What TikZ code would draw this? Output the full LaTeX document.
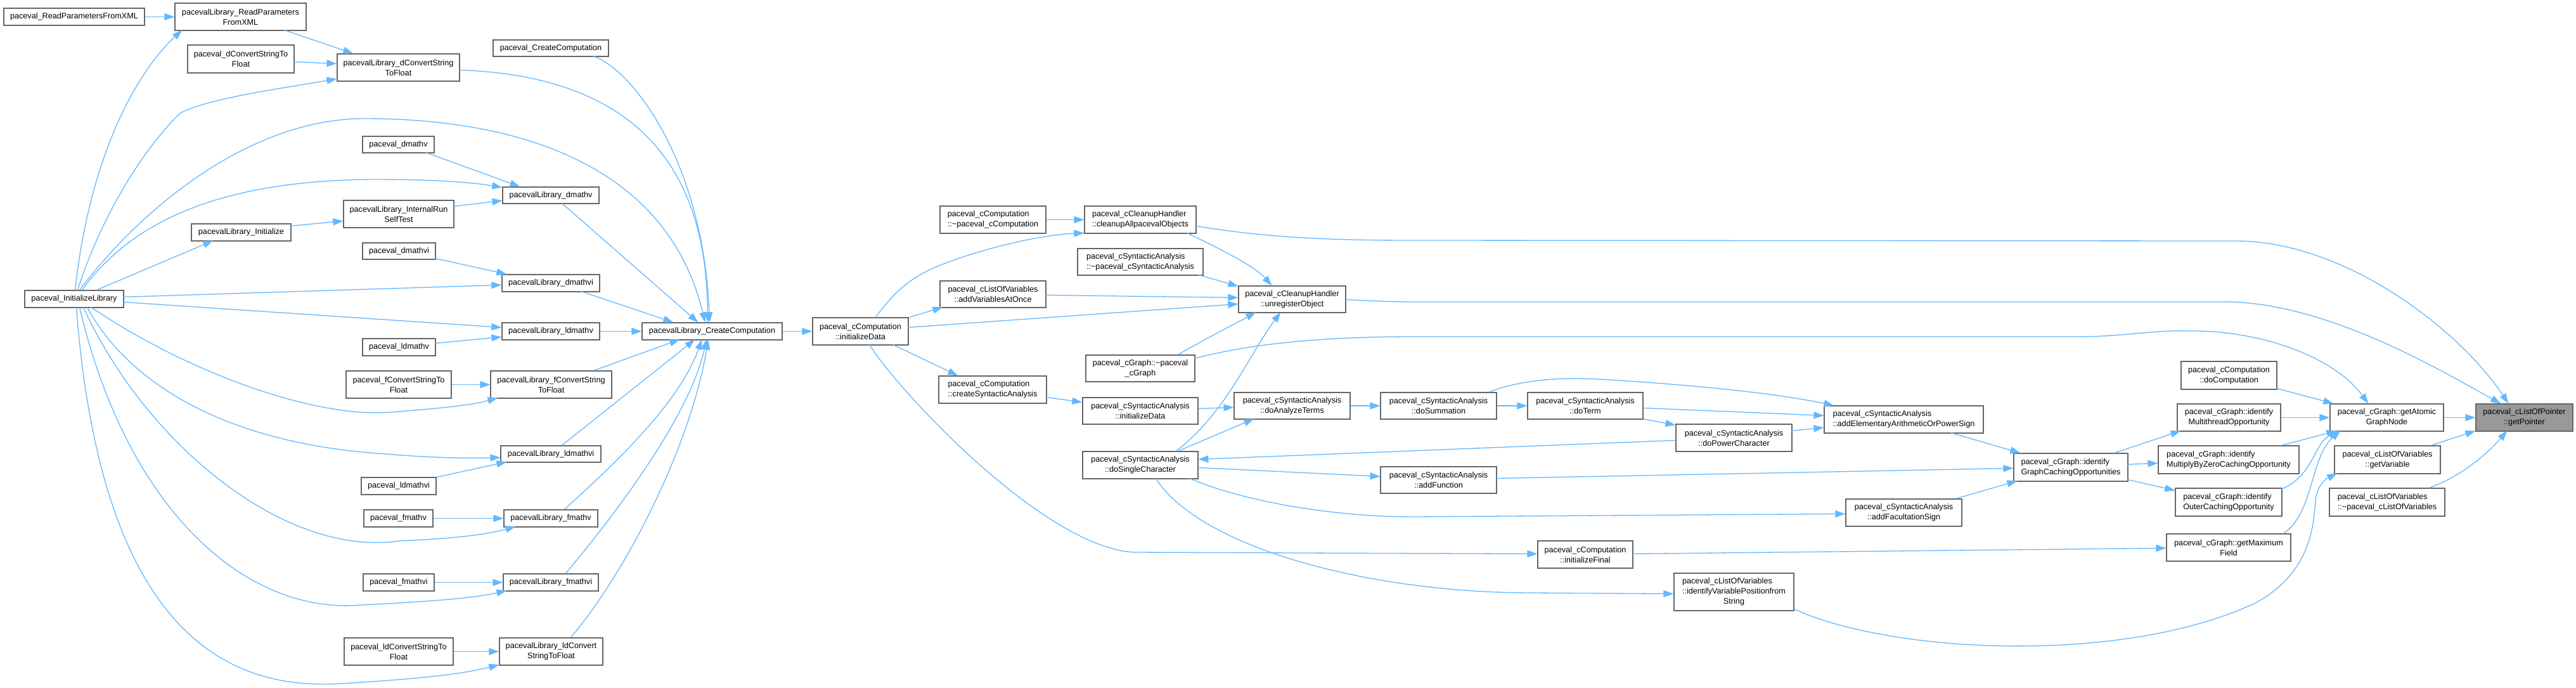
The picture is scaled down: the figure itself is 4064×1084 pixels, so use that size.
\documentclass[tikz,border=0pt]{standalone}
\usepackage{fontspec}
\setmainfont{Liberation Sans}
\usetikzlibrary{arrows.meta,calc}
\definecolor{edgec}{HTML}{63B8FF}
\definecolor{bord}{HTML}{666666}
\definecolor{rootf}{HTML}{999999}
\newcommand\tld{\textasciitilde}
\newcommand\bx[7][]{\node[box,#1,minimum width={(#4-#2)*0.5pt},minimum height={(#5-#3)*0.5pt}] (#6) at ({(#2+#4)/2},{(#3+#5)/2}) {#7};}
\tikzset{
  box/.style={draw=bord, fill=white, line width=0.6pt, inner sep=0pt, align=center, font=\fontsize{6.33}{8}\selectfont},
  lft/.style={align=left},
  root/.style={fill=rootf},
  e/.style={draw=edgec, line width=0.65pt, -{Triangle[length=8pt,width=5.5pt]}}
}
\begin{document}
\begin{tikzpicture}[x=0.5pt,y=-0.5pt]
\useasboundingbox (0,0) rectangle (4064,1084);
% ---------- nodes ----------
\bx{6}{13}{228}{40}{n1}{paceval\_ReadParametersFromXML}
\bx{276}{5}{483}{48}{n2}{pacevalLibrary\_ReadParameters\\FromXML}
\bx{296}{71}{464}{115}{n3}{paceval\_dConvertStringTo\\Float}
\bx{532}{85}{725}{128}{n4}{pacevalLibrary\_dConvertString\\ToFloat}
\bx{778}{63}{960}{89}{n5}{paceval\_CreateComputation}
\bx{572}{215}{685}{241}{n6}{paceval\_dmathv}
\bx{793}{295}{945}{321}{n7}{pacevalLibrary\_dmathv}
\bx{542}{316}{716}{359}{n8}{pacevalLibrary\_InternalRun\\SelfTest}
\bx{302}{353}{459}{380}{n9}{pacevalLibrary\_Initialize}
\bx{572}{383}{687}{409}{n10}{paceval\_dmathvi}
\bx{792}{433}{946}{460}{n11}{pacevalLibrary\_dmathvi}
\bx{39}{458}{195}{485}{n12}{paceval\_InitializeLibrary}
\bx{792}{509}{946}{536}{n13}{pacevalLibrary\_ldmathv}
\bx{1013}{509}{1234}{536}{n14}{pacevalLibrary\_CreateComputation}
\bx{572}{534}{687}{561}{n15}{paceval\_ldmathv}
\bx{546}{585}{712}{628}{n16}{paceval\_fConvertStringTo\\Float}
\bx{774}{585}{965}{628}{n17}{pacevalLibrary\_fConvertString\\ToFloat}
\bx{790}{703}{948}{729}{n18}{pacevalLibrary\_ldmathvi}
\bx{570}{753}{688}{780}{n19}{paceval\_ldmathvi}
\bx{574}{804}{683}{831}{n20}{paceval\_fmathv}
\bx{795}{804}{943}{831}{n21}{pacevalLibrary\_fmathv}
\bx{573}{905}{685}{932}{n22}{paceval\_fmathvi}
\bx{794}{905}{944}{932}{n23}{pacevalLibrary\_fmathvi}
\bx{543}{1006}{715}{1049}{n24}{paceval\_ldConvertStringTo\\Float}
\bx{788}{1006}{951}{1049}{n25}{pacevalLibrary\_ldConvert\\StringToFloat}
\bx{1282}{501}{1433}{544}{n26}{paceval\_cComputation\\::initializeData}
\bx[lft]{1483}{325}{1650}{368}{n27}{paceval\_cComputation\\::\tld paceval\_cComputation}
\bx[lft]{1711}{325}{1887}{368}{n28}{paceval\_cCleanupHandler\\::cleanupAllpacevalObjects}
\bx[lft]{1700}{392}{1898}{434}{n29}{paceval\_cSyntacticAnalysis\\::\tld paceval\_cSyntacticAnalysis}
\bx{1483}{443}{1650}{485}{n30}{paceval\_cListOfVariables\\::addVariablesAtOnce}
\bx{1954}{451}{2123}{493}{n31}{paceval\_cCleanupHandler\\::unregisterObject}
\bx{1713}{560}{1885}{602}{n32}{paceval\_cGraph::\tld paceval\\\_cGraph}
\bx[lft]{1481}{593}{1651}{636}{n33}{paceval\_cComputation\\::createSyntacticAnalysis}
\bx{1708}{627}{1890}{669}{n34}{paceval\_cSyntacticAnalysis\\::initializeData}
\bx{1947}{619}{2130}{661}{n35}{paceval\_cSyntacticAnalysis\\::doAnalyzeTerms}
\bx{2178}{619}{2361}{661}{n36}{paceval\_cSyntacticAnalysis\\::doSummation}
\bx{2410}{619}{2592}{661}{n37}{paceval\_cSyntacticAnalysis\\::doTerm}
\bx{2644}{669}{2827}{712}{n38}{paceval\_cSyntacticAnalysis\\::doPowerCharacter}
\bx{1708}{712}{1890}{755}{n39}{paceval\_cSyntacticAnalysis\\::doSingleCharacter}
\bx{2178}{736}{2361}{778}{n40}{paceval\_cSyntacticAnalysis\\::addFunction}
\bx[lft]{2878}{640}{3129}{683}{n41}{paceval\_cSyntacticAnalysis\\::addElementaryArithmeticOrPowerSign}
\bx[lft]{3177}{715}{3357}{759}{n42}{paceval\_cGraph::identify\\GraphCachingOpportunities}
\bx{2912}{787}{3095}{830}{n43}{paceval\_cSyntacticAnalysis\\::addFacultationSign}
\bx{2426}{853}{2576}{896}{n44}{paceval\_cComputation\\::initializeFinal}
\bx{2641}{904}{2830}{963}{n45}{\rlap{paceval\_cListOfVariables}\phantom{::identifyVariablePositionfrom}\\::identifyVariablePositionfrom\\String}
\bx{3441}{570}{3592}{614}{n46}{paceval\_cComputation\\::doComputation}
\bx{3435}{637}{3598}{680}{n47}{paceval\_cGraph::identify\\MultithreadOpportunity}
\bx[lft]{3405}{703}{3627}{747}{n48}{paceval\_cGraph::identify\\MultiplyByZeroCachingOpportunity}
\bx[lft]{3432}{770}{3600}{814}{n49}{paceval\_cGraph::identify\\OuterCachingOpportunity}
\bx{3418}{842}{3614}{885}{n50}{paceval\_cGraph::getMaximum\\Field}
\bx{3676}{637}{3855}{680}{n51}{paceval\_cGraph::getAtomic\\GraphNode}
\bx{3683}{703}{3850}{747}{n52}{paceval\_cListOfVariables\\::getVariable}
\bx[lft]{3675}{770}{3857}{814}{n53}{paceval\_cListOfVariables\\::\tld paceval\_cListOfVariables}
\bx[root]{3906}{637}{4059}{680}{n54}{paceval\_cListOfPointer\\::getPointer}
% ---------- edges: left part ----------
\draw[e] (n1.east) -- (n2.west);
\draw[e] ($(n2.north west)+(173,43)$) -- ($(n4.north west)+(26,0)$);
\draw[e] ($(n3.north west)+(168,27)$) -- ($(n4.north west)+(0,16)$);
\draw[e] ($(n12.north west)+(80,0)$) .. controls (145,220) and (230,100) .. ($(n2.north west)+(12,43)$);
\draw[e] ($(n12.north west)+(84,0)$) .. controls (170,310) and (250,210) .. (285,178) .. controls (330,155) and (440,140) .. ($(n4.north west)+(0,40)$);
\draw[e] ($(n12.north west)+(87,0)$) .. controls (230,320) and (400,187) .. (575,187) .. controls (800,187) and (1050,250) .. ($(n14.north west)+(100,0)$);
\draw[e] ($(n12.north west)+(91,0)$) .. controls (200,360) and (330,283) .. (596,283) .. controls (680,283) and (740,287) .. ($(n7.north west)+(0,1)$);
\draw[e] ($(n12.north west)+(114,0)$) -- ($(n9.north west)+(35,27)$);
\draw[e] ($(n9.north west)+(157,4)$) -- ($(n8.north west)+(0,33)$);
\draw[e] ($(n8.north west)+(174,10)$) -- ($(n7.north west)+(0,22)$);
\draw[e] ($(n6.north west)+(100,26)$) -- ($(n7.north west)+(28,0)$);
\draw[e] ($(n10.north west)+(115,25)$) -- ($(n11.north west)+(8,0)$);
\draw[e] ($(n12.north west)+(156,11)$) -- ($(n11.north west)+(0,17)$);
\draw[e] ($(n12.north west)+(156,19)$) -- ($(n13.north west)+(0,8)$);
\draw[e] ($(n15.north west)+(115,8)$) -- ($(n13.north west)+(0,23)$);
\draw[e] (n13.east) -- (n14.west);
\draw[e] ($(n11.north west)+(125,27)$) -- ($(n14.north west)+(50,0)$);
\draw[e] ($(n7.north west)+(94,26)$) -- ($(n14.north west)+(89,0)$);
\draw[e] ($(n4.north west)+(193,26)$) .. controls (1000,120) and (1115,260) .. ($(n14.north west)+(104,0)$);
\draw[e] ($(n5.north west)+(158,26)$) .. controls (1000,110) and (1110,260) .. ($(n14.north west)+(107,0)$);
\draw[e] (n16.east) -- (n17.west);
\draw[e] ($(n12.north west)+(105,27)$) .. controls (300,590) and (500,660) .. (617,650) .. controls (680,645) and (740,640) .. ($(n17.north west)+(12,43)$);
\draw[e] ($(n12.north west)+(99,27)$) .. controls (200,600) and (350,700) .. (610,716) .. controls (680,722) and (740,723) .. ($(n18.north west)+(0,19)$);
\draw[e] ($(n12.north west)+(93,27)$) .. controls (230,700) and (450,880) .. (631,853) .. controls (700,850) and (760,845) .. ($(n21.north west)+(19,27)$);
\draw[e] ($(n12.north west)+(87,27)$) .. controls (200,800) and (380,960) .. (554,955) .. controls (650,950) and (740,945) .. ($(n23.north west)+(6,27)$);
\draw[e] ($(n12.north west)+(82,27)$) .. controls (160,1000) and (360,1090) .. (540,1078) .. controls (650,1071) and (720,1065) .. ($(n25.north west)+(0,43)$);
\draw[e] ($(n19.north west)+(120,0)$) -- ($(n18.north west)+(10,26)$);
\draw[e] (n20.east) -- (n21.west);
\draw[e] (n22.east) -- (n23.west);
\draw[e] (n24.east) -- (n25.west);
\draw[e] ($(n17.north west)+(163,0)$) -- ($(n14.north west)+(60,27)$);
\draw[e] ($(n18.north west)+(97,0)$) -- ($(n14.north west)+(84,27)$);
\draw[e] ($(n21.north west)+(96,0)$) .. controls (960,740) and (1070,640) .. ($(n14.north west)+(95,27)$);
\draw[e] ($(n23.north west)+(99,0)$) .. controls (980,800) and (1090,650) .. ($(n14.north west)+(102,27)$);
\draw[e] ($(n25.north west)+(113,0)$) .. controls (990,900) and (1090,700) .. ($(n14.north west)+(105,27)$);
\draw[e] (n14.east) -- (n26.west);
% ---------- edges: middle part ----------
\draw[e] (n27.east) -- (n28.west);
\draw[e] ($(n26.north west)+(100,0)$) .. controls (1425,440) and (1460,425) .. (1520,405) .. controls (1580,385) and (1650,370) .. ($(n28.north west)+(0,43)$);
\draw[e] ($(n26.north west)+(153,0)$) -- ($(n30.north west)+(5,42)$);
\draw[e] ($(n26.north west)+(151,16)$) -- ($(n31.north west)+(0,29)$);
\draw[e] ($(n26.north west)+(127,43)$) -- ($(n33.north west)+(31,0)$);
\draw[e] ($(n26.north west)+(90,43)$) .. controls (1420,620) and (1650,865) .. (1790,871) -- ($(n44.north west)+(0,21)$);
\draw[e] ($(n28.north west)+(162,43)$) .. controls (1920,390) and (1980,420) .. ($(n31.north west)+(53,0)$);
\draw[e] ($(n29.north west)+(191,42)$) -- ($(n31.north west)+(0,1)$);
\draw[e] ($(n30.north west)+(167,23)$) -- ($(n31.north west)+(0,19)$);
\draw[e] ($(n32.north west)+(146,0)$) .. controls (1900,535) and (1950,510) .. ($(n31.north west)+(28,42)$);
\draw[e] ($(n39.north west)+(148,0)$) .. controls (1935,650) and (1970,560) .. ($(n31.north west)+(67,42)$);
\draw[e] ($(n32.north west)+(172,6)$) .. controls (1980,540) and (2100,531) .. (2229,531) -- (3278,531) .. controls (3350,531) and (3400,520) .. (3452,522) .. controls (3560,520) and (3680,560) .. ($(n51.north west)+(61,0)$);
\draw[e] ($(n28.north west)+(176,32)$) .. controls (2000,375) and (2100,379) .. (2229,379) -- (3527,380) .. controls (3700,380) and (3880,520) .. ($(n54.north west)+(52,0)$);
\draw[e] ($(n31.north west)+(169,22)$) .. controls (2170,475) and (2200,476) .. (2229,476) -- (3517,476) .. controls (3680,480) and (3860,590) .. ($(n54.north west)+(40,0)$);
\draw[e] ($(n33.north west)+(170,34)$) -- ($(n34.north west)+(0,8)$);
\draw[e] ($(n34.north west)+(183,18)$) -- ($(n35.north west)+(0,24)$);
\draw[e] (n35.east) -- (n36.west);
\draw[e] (n36.east) -- (n37.west);
\draw[e] ($(n39.north west)+(151,0)$) -- ($(n35.north west)+(32,42)$);
\draw[e] ($(n36.north west)+(171,0)$) .. controls (2410,595) and (2480,595) .. (2540,599) .. controls (2680,608) and (2800,620) .. ($(n41.north west)+(16,0)$);
\draw[e] ($(n37.north west)+(183,25)$) -- ($(n41.north west)+(0,16)$);
\draw[e] ($(n37.north west)+(182,42)$) -- ($(n38.north west)+(0,2)$);
\draw[e] ($(n38.north west)+(183,11)$) -- ($(n41.north west)+(0,35)$);
\draw[e] ($(n38.north west)+(0,26)$) -- ($(n39.north west)+(183,13)$);
\draw[e] ($(n39.north west)+(183,26)$) -- ($(n40.north west)+(0,16)$);
\draw[e] ($(n40.north west)+(183,19)$) -- ($(n42.north west)+(0,24)$);
\draw[e] ($(n39.north west)+(169,43)$) .. controls (1960,790) and (2100,815) .. (2229,815) -- ($(n43.north west)+(0,24)$);
\draw[e] ($(n39.north west)+(116,43)$) .. controls (1890,860) and (2150,935) .. (2420,935) -- ($(n45.north west)+(0,33)$);
\draw[e] ($(n44.north west)+(151,21)$) -- ($(n50.north west)+(0,23)$);
% ---------- edges: right part ----------
\draw[e] ($(n41.north west)+(200,43)$) -- ($(n42.north west)+(11,0)$);
\draw[e] ($(n43.north west)+(174,0)$) -- ($(n42.north west)+(6,44)$);
\draw[e] ($(n42.north west)+(159,0)$) -- ($(n47.north west)+(6,43)$);
\draw[e] ($(n42.north west)+(180,18)$) -- ($(n48.north west)+(0,28)$);
\draw[e] ($(n42.north west)+(180,42)$) -- ($(n49.north west)+(0,4)$);
\draw[e] ($(n46.north west)+(151,43)$) -- ($(n51.north west)+(6,0)$);
\draw[e] (n47.east) -- (n51.west);
\draw[e] ($(n48.north west)+(195,0)$) -- ($(n51.north west)+(11,43)$);
\draw[e] ($(n49.north west)+(168,2)$) .. controls (3650,750) and (3650,700) .. ($(n51.north west)+(14,43)$);
\draw[e] ($(n50.north west)+(185,0)$) .. controls (3650,810) and (3645,720) .. ($(n51.north west)+(17,43)$);
\draw[e] ($(n45.north west)+(190,57)$) .. controls (2980,1030) and (3350,1050) .. (3560,950) .. controls (3650,900) and (3650,820) .. (3653,790) .. controls (3655,765) and (3670,755) .. ($(n52.north west)+(5,44)$);
\draw[e] (n51.east) -- (n54.west);
\draw[e] ($(n52.north west)+(153,0)$) -- ($(n54.north west)+(0,43)$);
\draw[e] ($(n53.north west)+(158,0)$) .. controls (3880,752) and (3920,720) .. ($(n54.north west)+(50,43)$);
\end{tikzpicture}
\end{document}
